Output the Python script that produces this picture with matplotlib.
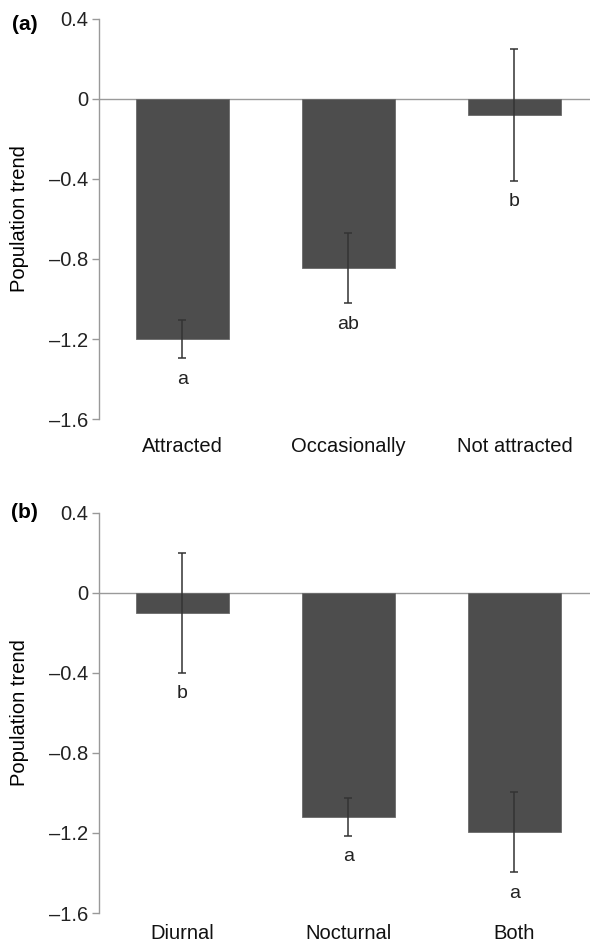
import matplotlib.pyplot as plt

plt.rcParams['font.family'] = ['Liberation Sans', 'DejaVu Sans']

# Panel (a): attraction to light
cats_a = ['Attracted', 'Occasionally', 'Not attracted']
trend_a = [-1.20, -0.845, -0.08]
err_a = [0.095, 0.175, 0.33]
sig_a = ['a', 'ab', 'b']

# Panel (b): activity period
cats_b = ['Diurnal', 'Nocturnal', 'Both']
trend_b = [-0.10, -1.12, -1.195]
err_b = [0.30, 0.093, 0.20]
sig_b = ['b', 'a', 'a']

yticks = [0.4, 0, -0.4, -0.8, -1.2, -1.6]
yticklabels = ['0.4', '0', '\u20130.4', '\u20130.8', '\u20131.2', '\u20131.6']

fig = plt.figure(figsize=(5.9, 9.48), dpi=100)
ax1 = fig.add_axes([0.1678, 0.558, 0.8322, 0.422])
ax2 = fig.add_axes([0.1678, 0.0369, 0.8322, 0.4223])


def draw_panel(ax, cats, vals, errs, sig, tag, tag_y, xpad):
    x = range(len(cats))
    ax.bar(x, vals, width=0.56, color='#4d4d4d', edgecolor='#6a6a6a', linewidth=0.6, zorder=2)
    ax.errorbar(x, vals, yerr=errs, fmt='none', ecolor='#333333', elinewidth=1.1,
                capsize=2.6, capthick=1.1, zorder=3)
    ax.axhline(0, color='#9a9a9a', linewidth=1.0, zorder=1)
    for xi, v, e, s in zip(x, vals, errs, sig):
        ax.text(xi, v - e - 0.105, s, ha='center', va='center', fontsize=14, color='#222222')
    ax.set_xlim(-0.503, 2.455)
    ax.set_ylim(-1.6, 0.4)
    ax.set_yticks(yticks)
    ax.set_yticklabels(yticklabels)
    ax.set_xticks(list(x))
    ax.set_xticklabels(cats)
    ax.tick_params(axis='x', length=0, pad=xpad, labelsize=14.5, labelcolor='#111111')
    ax.tick_params(axis='y', length=5, width=1, color='#999999', pad=3,
                   labelsize=14.5, labelcolor='#222222')
    for side in ['top', 'right', 'bottom']:
        ax.spines[side].set_visible(False)
    ax.spines['left'].set_color('#999999')
    ax.spines['left'].set_linewidth(1.0)
    ax.set_ylabel('Population trend', fontsize=14.5)
    ax.yaxis.set_label_coords(-0.142, 0.5)
    ax.text(-0.152, tag_y, tag, transform=ax.transAxes, fontsize=15, fontweight='bold',
            ha='center', va='center')


draw_panel(ax1, cats_a, trend_a, err_a, sig_a, '(a)', 0.985, 13)
draw_panel(ax2, cats_b, trend_b, err_b, sig_b, '(b)', 1.0, 8)

fig.savefig('out.png', dpi=100)
